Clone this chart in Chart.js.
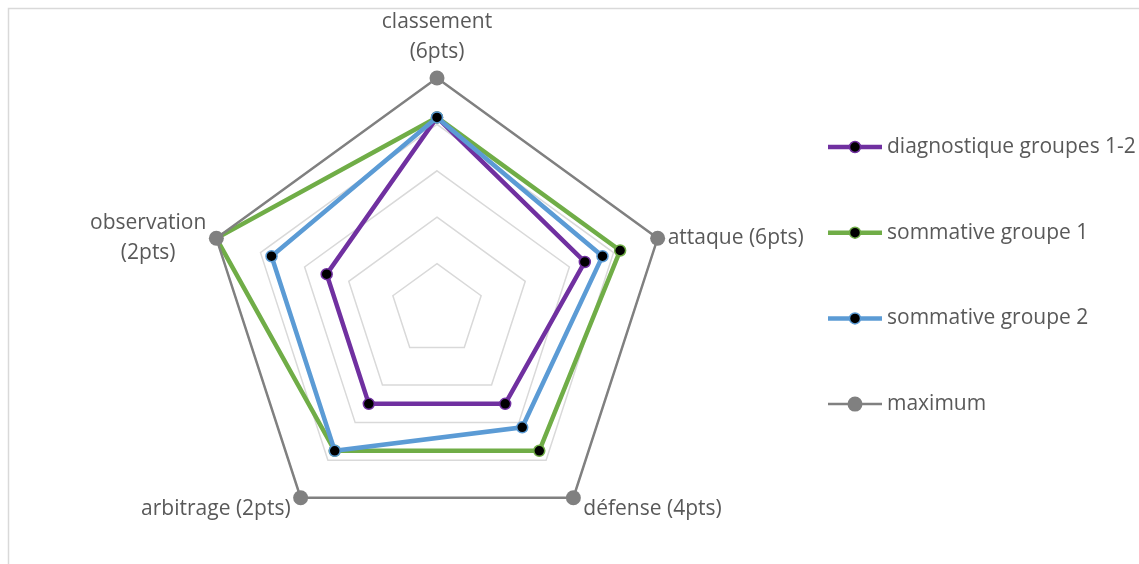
<!DOCTYPE html>
<html>
<head>
<meta charset="utf-8">
<script src="https://cdn.jsdelivr.net/npm/chart.js@4"></script>
<style>
  html, body { margin: 0; padding: 0; background: #fff; }
  canvas { display: block; }
</style>
</head>
<body>
<canvas id="stage" width="1139" height="564"></canvas>
<script>
// critères (libellés sur 2 lignes possibles)
const labels = [
  ['classement', '(6pts)'],
  ['attaque (6pts)'],
  ['défense (4pts)'],
  ['arbitrage (2pts)'],
  ['observation', '(2pts)']
];

// notes ramenées sur 1
const diagnostique = [0.83, 0.67, 0.5, 0.5, 0.5];
const sommative1 = [0.83, 0.83, 0.75, 0.75, 1];
const sommative2 = [0.83, 0.75, 0.625, 0.75, 0.75];
const maximum = [1, 1, 1, 1, 1];

const seriesNames = ['diagnostique groupes 1-2', 'sommative groupe 1', 'sommative groupe 2', 'maximum'];

const FONT = '21px "Open Sans"';
const TEXT_COLOR = '#595959';

function serie(label, values, color, order) {
  return {
    label: label,
    data: values,
    fill: false,
    borderColor: color,
    borderWidth: 4.5,
    pointBackgroundColor: '#000',
    pointBorderColor: color,
    pointBorderWidth: 1.5,
    pointRadius: 5.5,
    tension: 0,
    order: order
  };
}

const data = {
  labels: labels,
  datasets: [
    serie(seriesNames[0], diagnostique, '#7030a0', 4),
    serie(seriesNames[1], sommative1, '#70ad47', 3),
    serie(seriesNames[2], sommative2, '#5b9bd5', 2),
    {
      label: seriesNames[3],
      data: maximum,
      fill: false,
      borderColor: '#808080',
      borderWidth: 2.5,
      pointBackgroundColor: '#808080',
      pointBorderColor: '#808080',
      pointBorderWidth: 0,
      pointRadius: 7.5,
      tension: 0,
      order: 1
    }
  ]
};

// cadre, libellés des axes et légende dessinés à la main
const decor = {
  id: 'decor',
  beforeDraw(chart) {
    const ctx = chart.ctx;
    ctx.save();
    ctx.strokeStyle = '#d9d9d9';
    ctx.lineWidth = 1.5;
    ctx.strokeRect(8.5, 8.5, 1200, 600);
    ctx.restore();
  },
  afterDraw(chart) {
    const ctx = chart.ctx;
    const scale = chart.scales.r;
    ctx.save();
    ctx.font = FONT;
    ctx.fillStyle = TEXT_COLOR;
    ctx.textBaseline = 'middle';
    ctx.textAlign = 'center';
    const lineH = 30;

    labels.forEach((lines, i) => {
      const p = scale.getPointPosition(i, scale.drawingArea);
      const w = Math.max(...lines.map(l => ctx.measureText(l).width));
      const h = lines.length * lineH;
      let cx, cy;
      if (Math.abs(p.x - scale.xCenter) < 2) {
        cx = p.x;
        cy = p.y - 11 - h / 2;
      } else if (p.x > scale.xCenter) {
        cx = p.x + 10 + w / 2;
        cy = p.y > scale.yCenter ? p.y + 11 : p.y;
      } else {
        cx = p.x - 10 - w / 2;
        cy = p.y > scale.yCenter ? p.y + 11 : p.y;
      }
      lines.forEach((l, k) => {
        ctx.fillText(l, cx, cy - h / 2 + lineH * (k + 0.5));
      });
    });

    // légende
    ctx.textAlign = 'left';
    chart.data.datasets.forEach((ds, i) => {
      const y = 147 + i * 85.7;
      ctx.strokeStyle = ds.borderColor;
      ctx.lineWidth = ds.borderWidth;
      ctx.beginPath();
      ctx.moveTo(828, y);
      ctx.lineTo(882, y);
      ctx.stroke();
      ctx.beginPath();
      ctx.arc(855, y, ds.pointRadius, 0, Math.PI * 2);
      ctx.fillStyle = ds.pointBackgroundColor;
      ctx.fill();
      if (ds.pointBorderWidth) {
        ctx.lineWidth = ds.pointBorderWidth;
        ctx.strokeStyle = ds.pointBorderColor;
        ctx.stroke();
      }
      ctx.fillStyle = TEXT_COLOR;
      ctx.fillText(ds.label, 887, y);
    });
    ctx.restore();
  }
};

const ctx = document.getElementById('stage').getContext('2d');
const config = {
  type: 'radar',
  data: data,
  options: {
    responsive: false,
    animation: false,
    layout: { padding: { left: 205, top: 78, right: 470, bottom: 22 } },
    plugins: {
      legend: { display: false },
      tooltip: { enabled: false }
    },
    scales: {
      r: {
        min: 0,
        max: 1,
        ticks: { display: false, stepSize: 0.2 },
        angleLines: { display: false },
        grid: { color: '#d9d9d9', lineWidth: 1.5 },
        pointLabels: { display: false }
      }
    }
  },
  plugins: [decor]
};
const myChart = new Chart(ctx, config);
</script>
</body>
</html>
